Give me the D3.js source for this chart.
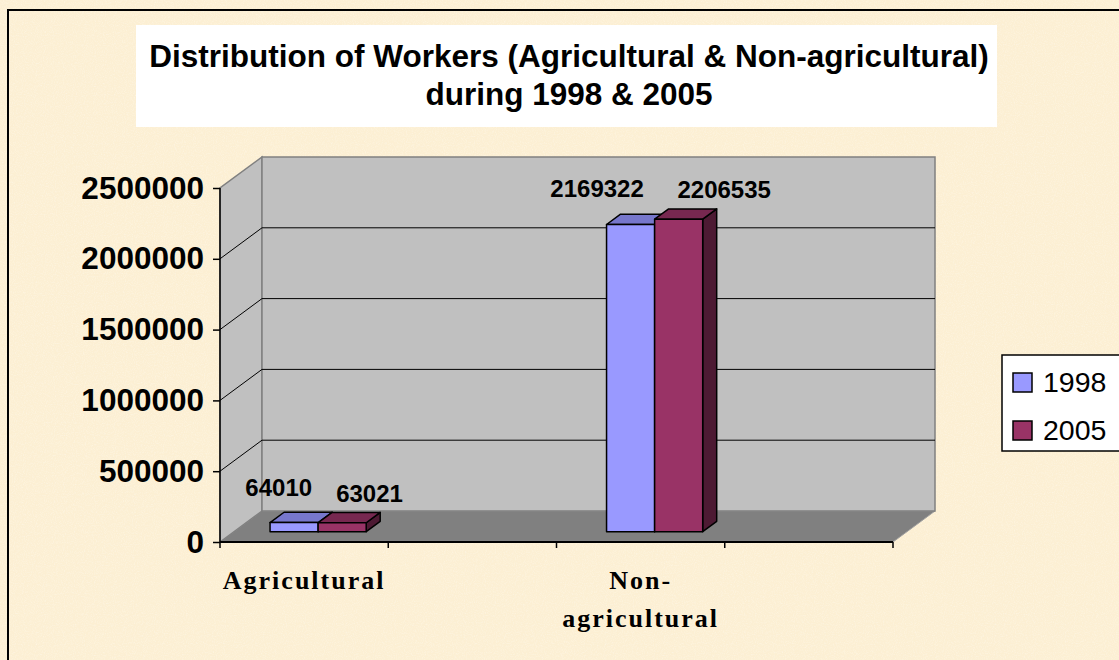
<!DOCTYPE html>
<html>
<head>
<meta charset="utf-8">
<script src="https://cdnjs.cloudflare.com/ajax/libs/d3/7.8.5/d3.min.js"></script>
<style>
    html, body { margin: 0; padding: 0; background: #fcf0d6; }
    svg { display: block; }
    .title       { font-family: "Liberation Sans", Arial, sans-serif; font-weight: bold; font-size: 31.5px; fill: #000; }
    .y-axis text { font-family: "Liberation Sans", Arial, sans-serif; font-weight: bold; font-size: 31.5px; fill: #000; }
    .bar-label   { font-family: "Liberation Sans", Arial, sans-serif; font-weight: bold; font-size: 24px; fill: #000; }
    .cat-label   { font-family: "Liberation Serif", "DejaVu Serif", serif; font-weight: bold; font-size: 26px; letter-spacing: 2px; fill: #000; }
    .legend-text { font-family: "Liberation Sans", Arial, sans-serif; font-size: 28.5px; fill: #000; }
</style>
</head>
<body>
<svg id="chart" width="1119" height="660"></svg>
<script>

/*********************/
/*** INIT VARIABLE ***/
/*********************/

var categories  = ["Agricultural", "", "Non-agricultural", ""];
var seriesNames = ["1998", "2005"];
var values1998  = [64010, null, 2169322, null];
var values2005  = [63021, null, 2206535, null];
var yTicks      = [0, 500000, 1000000, 1500000, 2000000, 2500000];
var titleLines  = ["Distribution of Workers (Agricultural & Non-agricultural)", "during 1998 & 2005"];

var seriesValues = [values1998, values2005];
var colors = {
    "1998": {front: "#9999ff", top: "#7777cc", side: "#5555a0"},
    "2005": {front: "#993366", top: "#772850", side: "#4d1a33"}
};

var svg = d3.select('#chart');

// front plane of the 3d box, plus the depth offset to the back wall
var plot  = {left: 220, right: 893, top: 188, bottom: 542},
    depth = {dx: 42, dy: -31},
    bar_z = [1 / 3, 2 / 3];

var y = d3.scaleLinear()
    .domain([0, 2500000])
    .range([plot.bottom, plot.top]);

var x0 = d3.scaleBand()
    .domain(d3.range(categories.length))
    .range([plot.left, plot.right])
    .padding(0);

var x1 = d3.scaleBand()
    .domain(seriesNames)
    .range([0, x0.bandwidth()])
    .paddingInner(0)
    .paddingOuter(0.75);

/********************************/
/*** DECLARE HELPER FUNCTIONS ***/
/********************************/

function proj(px, py, z) {
    return [px + z * depth.dx, py + z * depth.dy];
}

function poly(points) {
    return points.map(function(p) { return p.join(','); }).join(' ');
}

function text_width(str, cls) {
    var t = svg.append('text').classed(cls, true).text(str);
    var w = t.node().getComputedTextLength();
    t.remove();
    return w;
}

/******************/
/*** BACKGROUND ***/
/******************/

var defs = svg.append('defs');
var paper = defs.append('filter').attr('id', 'paper').attr('x', 0).attr('y', 0).attr('width', '100%').attr('height', '100%');
paper.append('feTurbulence').attr('type', 'fractalNoise').attr('baseFrequency', 0.9).attr('numOctaves', 2).attr('seed', 3);
paper.append('feColorMatrix').attr('type', 'matrix')
    .attr('values', '0 0 0 0 1  0 0 0 0 0.97  0 0 0 0 0.9  1.4 0 0 0 -0.6');

svg.append('rect').attr('width', 1119).attr('height', 660).attr('fill', '#fcefd3');
svg.append('rect').attr('width', 1119).attr('height', 660).attr('filter', 'url(#paper)').attr('opacity', 0.6);
svg.append('rect')
    .attr('x', 8).attr('y', 10).attr('width', 1200).attr('height', 700)
    .attr('fill', 'none').attr('stroke', '#000').attr('stroke-width', 2);

/*************/
/*** TITLE ***/
/*************/

svg.append('rect').attr('x', 136).attr('y', 25).attr('width', 861).attr('height', 102).attr('fill', '#fff');
svg.selectAll('.title')
    .data(titleLines)
    .enter().append('text')
    .classed('title', true)
    .attr('x', 569)
    .attr('y', function(d, i) { return 67 + i * 38; })
    .attr('text-anchor', 'middle')
    .text(function(d) { return d; });

/****************/
/*** 3D WALLS ***/
/****************/

var v_max = y.domain()[1];

// floor
svg.append('polygon')
    .attr('points', poly([proj(plot.left, y(0), 0), proj(plot.left, y(0), 1), proj(plot.right, y(0), 1), proj(plot.right, y(0), 0)]))
    .attr('fill', '#808080').attr('stroke', '#a0a0a0').attr('stroke-width', 1);

// side wall
svg.append('polygon')
    .attr('points', poly([proj(plot.left, y(0), 0), proj(plot.left, y(v_max), 0), proj(plot.left, y(v_max), 1), proj(plot.left, y(0), 1)]))
    .attr('fill', '#c0c0c0').attr('stroke', '#808080').attr('stroke-width', 1.5);

// back wall
svg.append('polygon')
    .attr('points', poly([proj(plot.left, y(0), 1), proj(plot.left, y(v_max), 1), proj(plot.right, y(v_max), 1), proj(plot.right, y(0), 1)]))
    .attr('fill', '#c0c0c0').attr('stroke', '#808080').attr('stroke-width', 1.5);

// gridlines on side and back walls
yTicks.filter(function(v) { return v > 0 && v < v_max; }).forEach(function(v) {
    var a = proj(plot.left, y(v), 0), b = proj(plot.left, y(v), 1), c = proj(plot.right, y(v), 1);
    svg.append('polyline')
        .attr('points', poly([a, b, c]))
        .attr('fill', 'none').attr('stroke', '#000').attr('stroke-width', 1);
});

/************/
/*** AXES ***/
/************/

svg.append('g')
    .classed('y-axis', true)
    .attr('transform', 'translate(' + plot.left + ',0)')
    .call(d3.axisLeft(y).tickValues(yTicks).tickSize(7).tickPadding(9).tickFormat(d3.format('d')))
    .call(function(g) { g.select('.domain').remove(); })
    .call(function(g) { g.selectAll('line').attr('stroke', '#000').attr('stroke-width', 1.5); });

svg.append('line')
    .attr('x1', plot.left).attr('x2', plot.left).attr('y1', y(v_max)).attr('y2', y(0))
    .attr('stroke', '#000').attr('stroke-width', 1.5);
svg.append('line')
    .attr('x1', plot.left).attr('x2', plot.right).attr('y1', y(0)).attr('y2', y(0))
    .attr('stroke', '#000').attr('stroke-width', 2);

// category ticks sit on band edges
d3.range(categories.length + 1).forEach(function(i) {
    var tx = plot.left + i * x0.step();
    svg.append('line')
        .attr('x1', tx).attr('x2', tx).attr('y1', y(0)).attr('y2', y(0) + 6)
        .attr('stroke', '#000').attr('stroke-width', 1.5);
});

// category labels, wrapped after a hyphen when too wide for the band
categories.forEach(function(name, i) {
    if (!name) return;
    var lines = [name];
    if (text_width(name, 'cat-label') > x0.bandwidth() && name.indexOf('-') > 0) {
        var k = name.indexOf('-') + 1;
        lines = [name.slice(0, k), name.slice(k)];
    }
    var t = svg.append('text')
        .classed('cat-label', true)
        .attr('text-anchor', 'middle');
    lines.forEach(function(line, j) {
        t.append('tspan')
            .attr('x', x0(i) + x0.bandwidth() / 2)
            .attr('y', 589 + j * 38)
            .text(line);
    });
});

/************/
/*** BARS ***/
/************/

categories.forEach(function(name, i) {
    seriesNames.forEach(function(s, k) {
        var v = seriesValues[k][i];
        if (v == null) return;
        var xl = x0(i) + x1(s),
            xr = xl + x1.bandwidth(),
            c  = colors[s];

        // right side face
        svg.append('polygon')
            .attr('points', poly([proj(xr, y(v), bar_z[0]), proj(xr, y(v), bar_z[1]), proj(xr, y(0), bar_z[1]), proj(xr, y(0), bar_z[0])]))
            .attr('fill', c.side).attr('stroke', '#000').attr('stroke-width', 1.5).attr('stroke-linejoin', 'round');
        // top face
        svg.append('polygon')
            .attr('points', poly([proj(xl, y(v), bar_z[0]), proj(xr, y(v), bar_z[0]), proj(xr, y(v), bar_z[1]), proj(xl, y(v), bar_z[1])]))
            .attr('fill', c.top).attr('stroke', '#000').attr('stroke-width', 1.5).attr('stroke-linejoin', 'round');
        // front face
        svg.append('polygon')
            .attr('points', poly([proj(xl, y(v), bar_z[0]), proj(xr, y(v), bar_z[0]), proj(xr, y(0), bar_z[0]), proj(xl, y(0), bar_z[0])]))
            .attr('fill', c.front).attr('stroke', '#000').attr('stroke-width', 1.5).attr('stroke-linejoin', 'round');
    });

    // data labels spread apart around the pair of bars
    var vals = seriesValues.map(function(arr) { return arr[i]; });
    if (vals[0] == null) return;
    var mid = x0(i) + x0.bandwidth() / 2 + bar_z[0] * depth.dx + 6;
    vals.forEach(function(v, k) {
        var str = d3.format('d')(v),
            w = text_width(str, 'bar-label'),
            half = w / 2 + w * 0.18,
            top = proj(0, y(v), bar_z[0])[1];
        svg.append('text')
            .classed('bar-label', true)
            .attr('x', k == 0 ? mid - half : mid + half)
            .attr('y', top - 21 - (k == 0 ? 6 : 0))
            .attr('text-anchor', 'middle')
            .text(str);
    });
});

/**************/
/*** LEGEND ***/
/**************/

var legend = svg.append('g').attr('transform', 'translate(1002,355)');
legend.append('rect')
    .attr('width', 140).attr('height', 96)
    .attr('fill', '#fff').attr('stroke', '#000').attr('stroke-width', 1.5);

seriesNames.forEach(function(s, k) {
    legend.append('rect')
        .attr('x', 11).attr('y', 18 + k * 48).attr('width', 19).attr('height', 19)
        .attr('fill', colors[s].front).attr('stroke', '#000').attr('stroke-width', 1.5);
    legend.append('text')
        .classed('legend-text', true)
        .attr('x', 41).attr('y', 37 + k * 48)
        .text(s);
});

</script>
</body>
</html>
